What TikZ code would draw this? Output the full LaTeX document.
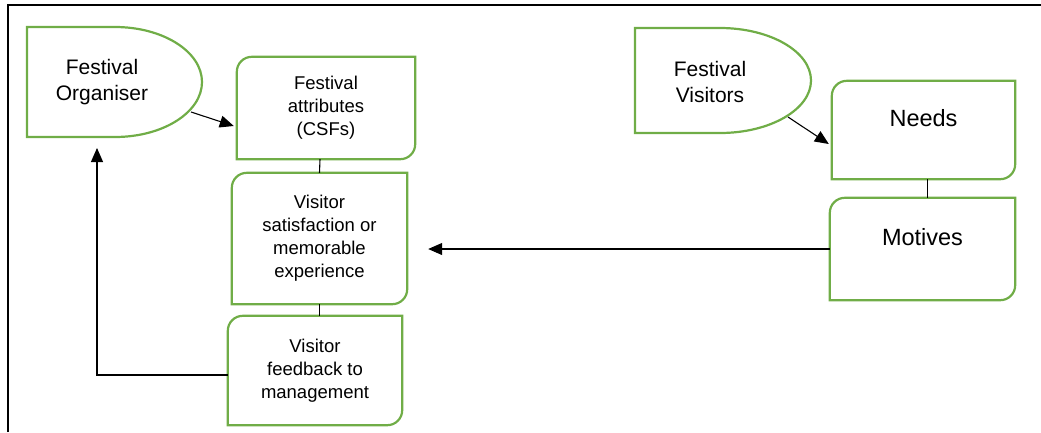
\documentclass[tikz,border=0pt]{standalone}
\usepackage{fontspec}
\setmainfont{Liberation Sans}
\usetikzlibrary{arrows.meta}
\definecolor{gline}{RGB}{112,173,71}
\newcommand\rdpath[1]{\draw[gbox] (#1.west) [rounded corners=15pt] -- (#1.north west) -- (#1.north) [sharp corners] -- (#1.north east) -- (#1.east) [rounded corners=15pt] -- (#1.south east) -- (#1.south) [sharp corners] -- (#1.south west) -- cycle;}
\begin{document}
\begin{tikzpicture}[x=1pt,y=-1pt,
  gbox/.style={draw=gline,line width=2.2pt},
  boxnode/.style={rectangle,inner sep=0pt,align=center,font=\fontsize{18.5}{23}\selectfont},
  bignode/.style={rectangle,inner sep=0pt,align=center,font=\fontsize{23.5}{28}\selectfont},
  actor/.style={rectangle,inner sep=0pt,align=center,font=\fontsize{21}{25.5}\selectfont},
  conn/.style={draw=black,line width=1.1pt},
  arr/.style={conn,-{Triangle[length=14pt,width=12pt]}}]
\useasboundingbox (0,0) rectangle (1041,432);
% frame
\draw[line width=2.2pt] (8,432) -- (8,5) -- (1041,5);
% actors
\node[actor] (org) at (102,82) {Festival\\Organiser};
\draw[gbox] (115,27) -- (27,27) -- (27,137) -- (115,137) .. controls (163,137) and (202,112.4) .. (202,82) .. controls (202,51.6) and (163,27) .. (115,27) -- cycle;
\node[actor] (vis) at (710,82) {Festival\\Visitors};
\draw[gbox] (720,28) -- (635,28) -- (635,133) -- (720,133) .. controls (770,133) and (811,109.5) .. (811,80.5) .. controls (811,51.5) and (770,28) .. (720,28) -- cycle;
% boxes
\node[boxnode,minimum width=178pt,minimum height=102pt] (attr) at (326,108) {Festival\\attributes\\(CSFs)};
\rdpath{attr}
\node[boxnode,minimum width=175pt,minimum height=131pt] (sat) at (319.5,238.5) {Visitor\\satisfaction or\\memorable\\experience};
\rdpath{sat}
\node[boxnode,minimum width=174pt,minimum height=109pt] (fb) at (315,370.5) {Visitor\\feedback to\\management};
\rdpath{fb}
\node[bignode,minimum width=183pt,minimum height=98pt,text height=17pt,text depth=24pt] (needs) at (923.5,130) {Needs};
\rdpath{needs}
\node[bignode,minimum width=185pt,minimum height=102pt,text height=17pt,text depth=24pt] (mot) at (922.5,249) {Motives};
\rdpath{mot}
% connectors
\coordinate (orgOut) at (191,112);
\coordinate (orgIn) at (97,148);
\coordinate (visOut) at (788,117);
\coordinate (satR) at ([xshift=21pt]sat.east);
\draw[arr] (orgOut) -- ([yshift=-18pt,xshift=-3pt]attr.west);
\draw[arr] (visOut) -- ([yshift=-14pt,xshift=-3pt]needs.west);
\draw[conn] ([xshift=-6pt]attr.south) -- (sat.north);
\draw[conn] (sat.south) -- (sat.south |- fb.north);
\draw[conn] ([xshift=4pt]needs.south) -- ([xshift=4pt]needs.south |- mot.north);
\draw[arr] (mot.west) -- (satR |- mot.west);
\draw[arr] ([yshift=-4.5pt]fb.west) -| (orgIn);
\end{tikzpicture}
\end{document}
